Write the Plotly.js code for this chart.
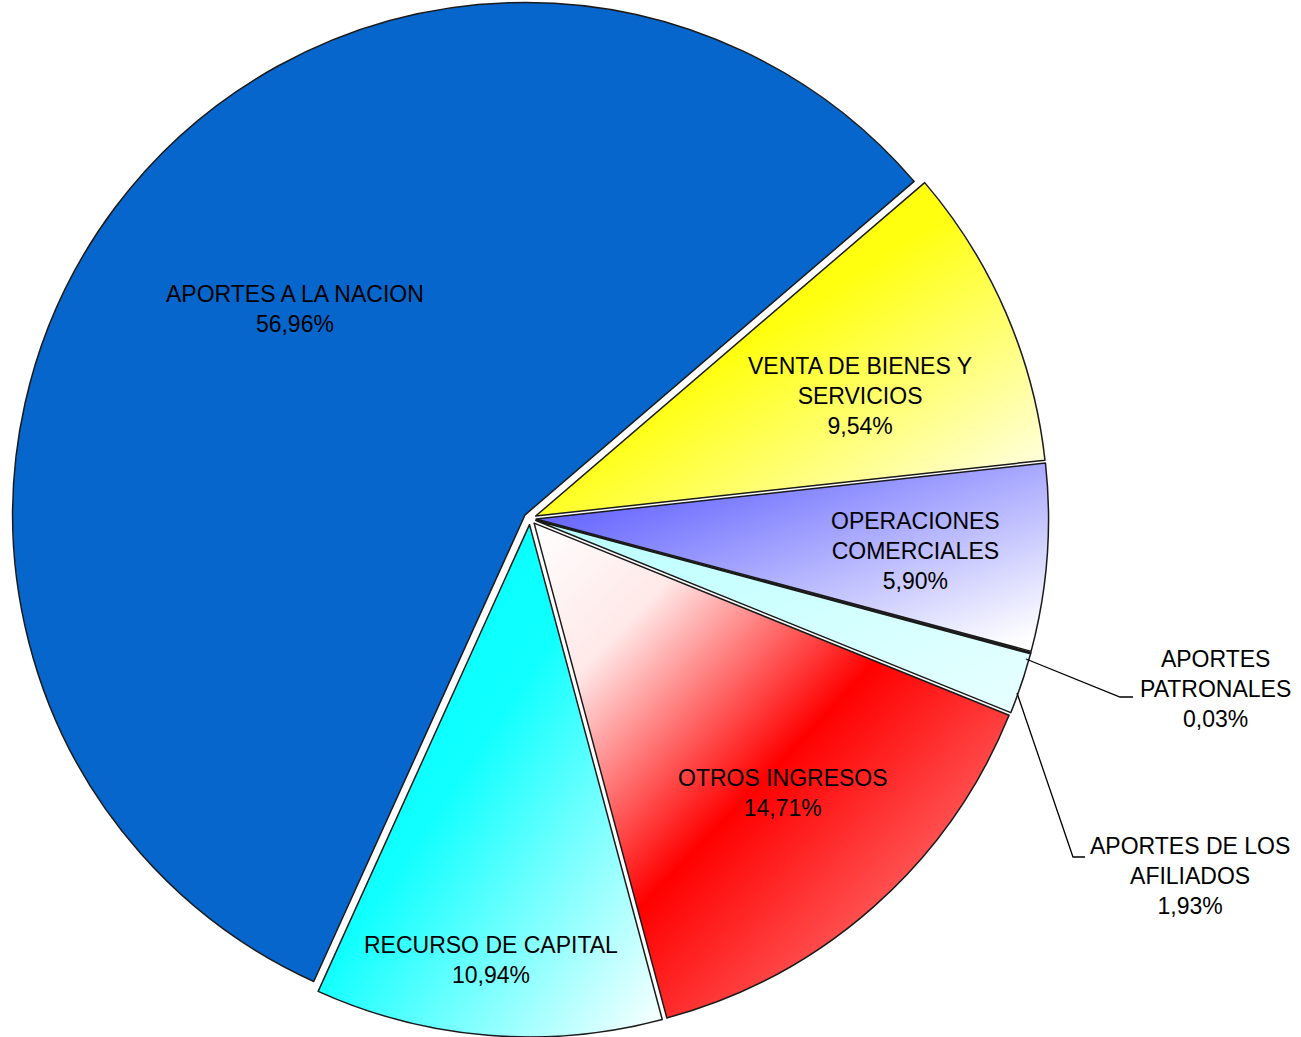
<!DOCTYPE html>
<html>
<head>
<meta charset="utf-8">
<script src="https://cdn.plot.ly/plotly-3.0.1.min.js"></script>
<style>html,body{margin:0;padding:0;background:#fff;}#chart{width:1301px;height:1037px;}</style>
</head>
<body>
<div id="chart"></div>
<script>
// ---- data ----
const categories = [
  "VENTA DE BIENES Y<br>SERVICIOS",
  "OPERACIONES<br>COMERCIALES",
  "APORTES<br>PATRONALES",
  "APORTES DE LOS<br>AFILIADOS",
  "OTROS INGRESOS",
  "RECURSO DE CAPITAL",
  "APORTES A LA NACION"
];
const shares = [9.54, 5.90, 0.03, 1.93, 14.71, 10.94, 56.96];

// ---- styling (not data) ----
const colors = ["#FFFF40", "#A0A0FF", "#D8D8F0", "#C8FFFF", "#FF3030", "#40FFFF", "#0766CC"];
// gradient stops per slice (diagonal, top-left -> bottom-right)
const gradients = [
  [[0, "#FFFF00"], [0.45, "#FFFF10"], [1, "#FFFFFF"]],
  [[0, "#4A4AFF"], [0.25, "#7878FF"], [0.95, "#FFFFFF"]],
  [[0, "#E0E0F0"], [1, "#F4F4FF"]],
  [[0, "#B8FFFF"], [1, "#E8FFFF"]],
  [[0, "#FFFFFF"], [0.2, "#FFE8E8"], [0.5, "#FF0000"], [0.78, "#FF5A5A"], [1, "#FFC0C0"]],
  [[0, "#00FFFF"], [0.45, "#10FFFF"], [1, "#FFFFFF"]],
  [[0, "#0766CC"], [1, "#0766CC"]]
];
// label centres in page pixels
const labelPos = [[860, 396], [915, 551], [1215, 689], [1190, 876], [783, 793], [491, 960], [295, 309]];
const W = 1301, H = 1037;

const trace = {
  type: "pie",
  labels: categories,
  values: shares,
  sort: false,
  direction: "clockwise",
  rotation: 49.4,
  pull: [0.012, 0.012, 0.012, 0.012, 0.012, 0.012, 0.012],
  marker: { colors: colors, line: { color: "#1a1a1a", width: 1.5 } },
  textinfo: "none",
  hoverinfo: "skip",
  showlegend: false,
  domain: { x: [0.0074, 0.8074], y: [0, 1] }
};

const labelFont = { family: "Liberation Sans, Arial, sans-serif", size: 23, color: "#000" };
const annotations = categories.map((c, i) => ({
  text: c + "<br>" + shares[i].toFixed(2).replace(".", ",") + "%",
  xref: "paper", yref: "paper",
  x: labelPos[i][0] / W, y: 1 - labelPos[i][1] / H,
  xanchor: "center", yanchor: "middle",
  showarrow: false, font: labelFont, align: "center"
}));

function P(x, y) { return (x / W) + " " + (1 - y / H); }
const layout = {
  width: W, height: H,
  margin: { l: 0, r: 0, t: 0, b: 0 },
  paper_bgcolor: "#fff",
  showlegend: false,
  annotations: annotations,
  shapes: [
    { type: "path", xref: "paper", yref: "paper",
      path: "M " + P(1026, 659) + " L " + P(1120, 697) + " L " + P(1133, 697),
      line: { color: "#000", width: 1.3 } },
    { type: "path", xref: "paper", yref: "paper",
      path: "M " + P(1017, 693) + " L " + P(1073, 857) + " L " + P(1085, 857),
      line: { color: "#000", width: 1.3 } }
  ]
};

Plotly.newPlot("chart", [trace], layout, { displayModeBar: false, staticPlot: true }).then(gd => {
  const NS = "http://www.w3.org/2000/svg";
  const svg = gd.querySelector("svg.main-svg");
  let defs = svg.querySelector("defs");
  if (!defs) { defs = document.createElementNS(NS, "defs"); svg.insertBefore(defs, svg.firstChild); }
  gradients.forEach((stops, i) => {
    const lg = document.createElementNS(NS, "linearGradient");
    lg.setAttribute("id", "slicegrad" + i);
    lg.setAttribute("x1", "0"); lg.setAttribute("y1", "0");
    lg.setAttribute("x2", "1"); lg.setAttribute("y2", "1");
    stops.forEach(s => {
      const st = document.createElementNS(NS, "stop");
      st.setAttribute("offset", s[0]);
      st.setAttribute("stop-color", s[1]);
      lg.appendChild(st);
    });
    defs.appendChild(lg);
  });
  gd.querySelectorAll("g.slice").forEach((g, k) => {
    const d = g.__data__;
    const idx = (d && d[0] && typeof d[0].i === "number") ? d[0].i : (d && typeof d.i === "number" ? d.i : k);
    const path = g.querySelector("path.surface");
    if (path) path.style.fill = "url(#slicegrad" + idx + ")";
  });
});
</script>
</body>
</html>
